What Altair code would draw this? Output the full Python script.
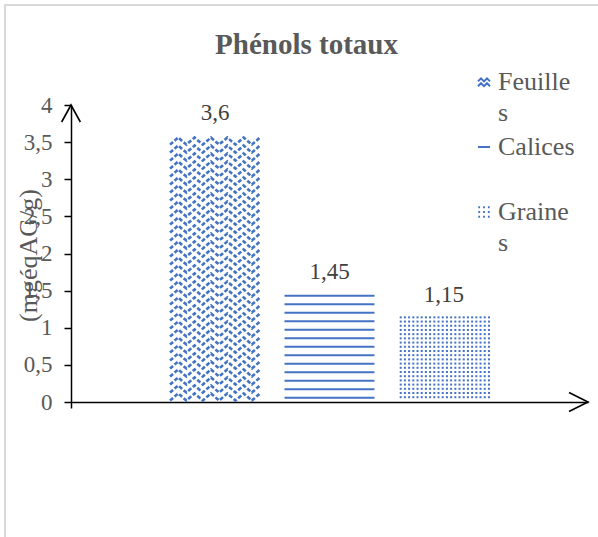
import altair as alt
import pandas as pd

# ---- data -------------------------------------------------------------
CATEGORIES = ["Feuilles", "Calices", "Graines"]
VALUES = [3.6, 1.45, 1.15]
Y_TICKS = [0, 0.5, 1, 1.5, 2, 2.5, 3, 3.5, 4]
LEGEND_LINES = {"Feuilles": ["Feuille", "s"], "Calices": ["Calices", ""], "Graines": ["Graine", "s"]}
TITLE = "Phénols totaux"
Y_TITLE = "(mgéqAG/g)"

# ---- styling ----------------------------------------------------------
BLUE = "#4472C4"
GREY = "#595959"
FONT = "Liberation Serif"
PLOT_W, PLOT_H = 517, 297
X_MIN, X_MAX = -1.258, 3.258     # one unit per bar slot, cluster centred
HALF = 0.393                     # half bar width in slot units
Y_MAX = 4

bars = pd.DataFrame({"cat": CATEGORIES, "value": VALUES, "pos": range(len(CATEGORIES))})
bars["x"] = bars.pos - HALF
bars["x2"] = bars.pos + HALF
bars["label"] = [f"{v:g}".replace(".", ",") for v in VALUES]
rows = {r.cat: r for r in bars.itertuples()}

# ---- fill textures (built from each bar's extent) ----------------------
zig = []
f = rows["Feuilles"]
n_steps, amp, gap = 11, 0.095, 0.1077
y0, r = 0.02, 0
while y0 + amp <= f.value:
    for k in range(n_steps + 1):
        zig.append({"row": r, "k": k,
                    "x": f.x + k * (f.x2 - f.x) / n_steps,
                    "y": y0 + (amp if k % 2 else 0)})
    y0 += gap
    r += 1
zig = pd.DataFrame(zig)

stripes = []
c = rows["Calices"]
y0 = 0.058
while y0 <= c.value:
    stripes.append({"x": c.x, "x2": c.x2, "y": y0})
    y0 += 0.1145
stripes = pd.DataFrame(stripes)

dots = []
g = rows["Graines"]
yy = g.value - 0.01
while yy > 0.02:
    xx = g.x + 0.015
    while xx <= g.x2:
        dots.append({"x": xx, "y": yy})
        xx += 0.0367
    yy -= 0.0566
dots = pd.DataFrame(dots)

# ---- scales and axes ---------------------------------------------------
xs = alt.Scale(domain=[X_MIN, X_MAX], nice=False, zero=False)
ys = alt.Scale(domain=[0, Y_MAX], nice=False)
X_AXIS = alt.Axis(values=[X_MIN], labels=False, title=None, tickSize=6, tickColor="black",
                  tickWidth=1.5, domainColor="black", domainWidth=1.5, grid=False)
Y_AXIS = alt.Axis(values=Y_TICKS, title=Y_TITLE, grid=False,
                  labelExpr="replace(format(datum.value, '.1~f'), '.', ',')",
                  labelFont=FONT, labelFontSize=23, labelColor=GREY, labelPadding=12,
                  tickSize=7, tickColor="black", tickWidth=1.5,
                  domainColor="black", domainWidth=1.5,
                  titleX=-43, titleY=150, titleAngle=-90, titleAlign="center",
                  titleBaseline="middle", titleFont=FONT, titleFontSize=26,
                  titleFontWeight="normal", titleColor=GREY)


def X(field="x"):
    return alt.X(f"{field}:Q", scale=xs, axis=X_AXIS)


def Y(field="y"):
    return alt.Y(f"{field}:Q", scale=ys, axis=Y_AXIS)


frame = alt.Chart(alt.Data(values=[{"f": 1}])).mark_rect(
    filled=False, stroke="#D9D9D9", strokeWidth=2
).encode(x=alt.value(-66), x2=alt.value(PLOT_W + 80), y=alt.value(-100), y2=alt.value(PLOT_H + 200))

bar_layer = alt.Chart(bars).mark_bar(opacity=0).encode(
    x=X("x"), x2="x2", y=Y("value"), y2=alt.datum(0)
)

zig_layer = alt.Chart(zig).mark_line(color=BLUE, strokeWidth=2.6, strokeDash=[4, 2]).encode(
    x=X(), y=Y(), detail="row:N", order="k:Q"
)

stripe_layer = alt.Chart(stripes).mark_rule(color=BLUE, strokeWidth=2).encode(
    x=X(), x2="x2", y=Y()
)

dot_layer = alt.Chart(dots).mark_square(color=BLUE, size=4, opacity=1).encode(x=X(), y=Y())

label_layer = alt.Chart(bars).mark_text(
    font=FONT, fontSize=23, color="#404040", dy=-15, baseline="alphabetic"
).encode(x=X("pos"), y=Y("value"), text="label:N")

# legend swatches drawn as small stroked paths
SWATCH_F = "M-1,-0.1L-0.5,-0.6L0,-0.1L0.5,-0.6L1,-0.1M-1,0.7L-0.5,0.2L0,0.7L0.5,0.2L1,0.7"
SWATCH_C = "M-1,0L1,0"
SWATCH_G = "".join(f"M{x - 0.15},{y}h0.3" for y in (-0.8, 0, 0.8) for x in (-0.8, 0, 0.8))
label_expr = " : ".join(
    f"datum.label == '{k}' ? {v!r}" for k, v in LEGEND_LINES.items()
) + " : datum.label"

legend_layer = alt.Chart(bars).mark_point(opacity=0, filled=False).encode(
    x=X("pos"), y=Y("value"),
    shape=alt.Shape("cat:N", scale=alt.Scale(domain=CATEGORIES, range=[SWATCH_F, SWATCH_C, SWATCH_G]),
                    legend=alt.Legend(title=None, orient="none", legendX=400, legendY=-36,
                                      labelExpr=label_expr, labelFont=FONT, labelFontSize=26,
                                      labelColor=GREY, labelOffset=1, labelLimit=200,
                                      symbolSize=144, symbolStrokeColor=BLUE, symbolFillColor="transparent",
                                      symbolStrokeWidth=2, symbolOpacity=1, rowPadding=8, padding=0))
)

arrow_x = alt.Chart(alt.Data(values=[{"a": 1}])).mark_point(
    shape="M-1,-0.5L0,0L-1,0.5", size=1444, filled=False, color="black", strokeWidth=1.6, opacity=1
).encode(x=alt.value(PLOT_W), y=alt.value(PLOT_H))

arrow_y = alt.Chart(alt.Data(values=[{"a": 1}])).mark_point(
    shape="M-0.55,1L0,0L0.55,1", size=1156, filled=False, color="black", strokeWidth=1.6, opacity=1
).encode(x=alt.value(0), y=alt.value(0))

chart = alt.layer(
    frame, bar_layer, zig_layer, stripe_layer, dot_layer, label_layer, legend_layer, arrow_x, arrow_y
).properties(
    width=PLOT_W, height=PLOT_H,
    title=alt.TitleParams(TITLE, font=FONT, fontSize=29, fontWeight="bold", color=GREY,
                          anchor="middle", dx=-23, offset=-56),
    autosize=alt.AutoSizeParams(type="none"),
    padding={"left": 71, "top": 105, "right": 10, "bottom": 135},
).configure(style={"guide-label": {"lineHeight": 30.5}}).configure_view(stroke=None)

chart.save("out.html", embed_options={"renderer": "svg", "actions": False})
